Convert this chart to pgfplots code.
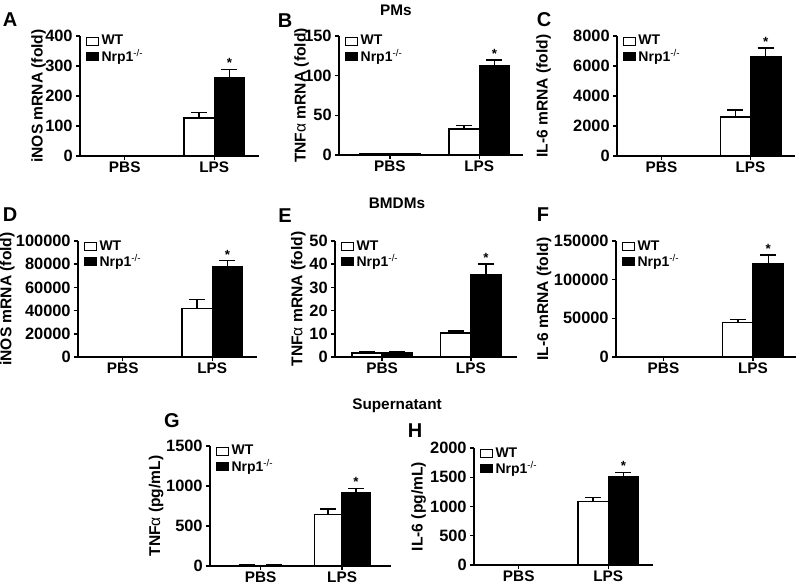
\documentclass[border=0pt]{standalone}
\usepackage{pgfplots}
\pgfplotsset{compat=1.18}
\usepackage{fontspec}
\setmainfont{Liberation Sans}
\newcommand\tickfont{\bfseries\fontsize{12.3}{13}\selectfont}
\newcommand\catfont{\bfseries\fontsize{11.5}{12}\selectfont}
\newcommand\labfont{\bfseries\fontsize{11.7}{12}\selectfont}
\newcommand\legfont{\bfseries\fontsize{10.5}{11}\selectfont}
\newcommand\letfont{\bfseries\fontsize{15}{16}\selectfont}
\newcommand\titfont{\bfseries\fontsize{11.5}{12}\selectfont}
\pgfplotsset{
  panel/.style={
    scale only axis, clip=false,
    axis x line*=bottom, axis y line*=left,
    axis line style={line width=1.1pt, black},
    xmin=-0.5, xmax=1.5, ymin=0,
    xtick={0,1}, xticklabels={PBS,LPS},
    tick align=outside,
    major tick length=3pt,
    every tick/.style={line width=1.1pt, black},
    x tick label style={font=\catfont, yshift=2.5pt},
    y tick label style={font=\tickfont, /pgf/number format/fixed, /pgf/number format/1000 sep={}, xshift=1pt},
    scaled y ticks=false,
    /pgf/number format/assume math mode=true,
    every axis y label/.style={at={(rel axis cs:0,0.5)}, rotate=90, anchor=center, font=\labfont},
    legend style={at={(0.03,1.03)}, anchor=north west, draw=none, fill=none, font=\legfont,
      inner sep=0pt, row sep=-2.5pt, cells={anchor=west}},
    legend image code/.code={\draw[##1, line width=0.9pt] (0pt,-3pt) rectangle (9pt,3pt);},
  },
  wt/.style={ybar, bar width=0.34, bar shift=0, fill=white, draw=black, line width=1.1pt,
    error bars/.cd, y dir=plus, y explicit,
    error bar style={line width=1.1pt, black},
    error mark options={rotate=90, mark size=6pt, line width=1.1pt, black}},
  ko/.style={ybar, bar width=0.34, bar shift=0, fill=black, draw=black, line width=1.1pt,
    error bars/.cd, y dir=plus, y explicit,
    error bar style={line width=1.1pt, black},
    error mark options={rotate=90, mark size=6pt, line width=1.1pt, black}},
}
\newcommand\nrp{Nrp1\textsuperscript{\mdseries -/-}}
\newcommand\alp{{\mdseries α}}
\newcommand\sigstar[1]{\node[font=\bfseries\fontsize{10}{10}\selectfont, anchor=south, inner sep=1pt] at (axis cs:1.17,#1) {*};}
\begin{document}
\begin{tikzpicture}
\useasboundingbox (0,0) rectangle (600pt,-438.75pt);
% ---------- A ----------
\begin{axis}[panel, at={(60pt,-117pt)}, anchor=south west, width=134.25pt, height=90pt,
  ymax=400, ytick={0,100,200,300,400}, ylabel={iNOS mRNA (fold)},
  ylabel style={yshift=31pt}]
\addplot[wt] coordinates {(-0.17,1) +- (0,0.3) (0.83,126) +- (0,19)};
\addplot[ko] coordinates {(0.17,1) +- (0,0.3) (1.17,262) +- (0,27)};
\legend{WT,\nrp}
\sigstar{289}
\end{axis}
% ---------- B ----------
\begin{axis}[panel, at={(254.25pt,-116.25pt)}, anchor=south west, width=138pt, height=89.25pt,
  xmin=-0.57, xmax=1.49,
  ymax=150, ytick={0,50,100,150}, ylabel={TNF\alp{} mRNA (fold)},
  ylabel style={yshift=28pt}]
\addplot[wt] coordinates {(-0.17,1) +- (0,0.2) (0.83,33) +- (0,4)};
\addplot[ko] coordinates {(0.17,1) +- (0,0.2) (1.17,113) +- (0,7)};
\legend{WT,\nrp}
\sigstar{120}
\end{axis}
% ---------- C ----------
\begin{axis}[panel, at={(462.75pt,-117pt)}, anchor=south west, width=133.5pt, height=90pt,
  ymax=8000, ytick={0,2000,4000,6000,8000}, ylabel={IL-6 mRNA (fold)},
  ylabel style={yshift=55pt}]
\addplot[wt] coordinates {(-0.17,1) +- (0,0.3) (0.83,2600) +- (0,470)};
\addplot[ko] coordinates {(0.17,1) +- (0,0.3) (1.17,6600) +- (0,600)};
\legend{WT,\nrp}
\sigstar{7200}
\end{axis}
% ---------- D ----------
\begin{axis}[panel, at={(58.5pt,-267.75pt)}, anchor=south west, width=134.25pt, height=87pt,
  ymax=100000, ytick={0,20000,40000,60000,80000,100000}, ylabel={iNOS mRNA (fold)},
  ylabel style={yshift=53pt}]
\addplot[wt] coordinates {(-0.17,1) +- (0,0.3) (0.83,42000) +- (0,7500)};
\addplot[ko] coordinates {(0.17,1) +- (0,0.3) (1.17,77500) +- (0,5500)};
\legend{WT,\nrp}
\sigstar{83000}
\end{axis}
% ---------- E ----------
\begin{axis}[panel, at={(251.25pt,-267.75pt)}, anchor=south west, width=136.5pt, height=87pt,
  xmin=-0.53, xmax=1.52,
  ymax=50, ytick={0,10,20,30,40,50}, ylabel={TNF\alp{} mRNA (fold)},
  ylabel style={yshift=27.5pt}]
\addplot[wt] coordinates {(-0.17,1.7) +- (0,0.5) (0.83,10.4) +- (0,0.8)};
\addplot[ko] coordinates {(0.17,1.8) +- (0,0.4) (1.17,35.4) +- (0,4.6)};
\legend{WT,\nrp}
\sigstar{40}
\end{axis}
% ---------- F ----------
\begin{axis}[panel, at={(462pt,-267.75pt)}, anchor=south west, width=135pt, height=87pt,
  xmin=-0.53, xmax=1.48,
  ymax=150000, ytick={0,50000,100000,150000}, ylabel={IL-6 mRNA (fold)},
  ylabel style={yshift=54pt}]
\addplot[wt] coordinates {(-0.17,1) +- (0,0.3) (0.83,44500) +- (0,3900)};
\addplot[ko] coordinates {(0.17,1) +- (0,0.3) (1.17,120000) +- (0,12000)};
\legend{WT,\nrp}
\sigstar{132000}
\end{axis}
% ---------- G ----------
\begin{axis}[panel, at={(157.5pt,-424.5pt)}, anchor=south west, width=135.75pt, height=90pt,
  xmin=-0.62, xmax=1.6,
  ymax=1500, ytick={0,500,1000,1500}, ylabel={TNF\alp{} (pg/mL)},
  ylabel style={yshift=40.5pt}]
\addplot[wt] coordinates {(-0.17,8) +- (0,2) (0.83,643) +- (0,72)};
\addplot[ko] coordinates {(0.17,8) +- (0,2) (1.17,919) +- (0,51)};
\legend{WT,\nrp}
\sigstar{970}
\end{axis}
% ---------- H ----------
\begin{axis}[panel, at={(355.5pt,-423.75pt)}, anchor=south west, width=134.25pt, height=87.75pt,
  ymax=2000, ytick={0,500,1000,1500,2000}, ylabel={IL-6 (pg/mL)},
  ylabel style={yshift=41.5pt}]
\addplot[wt] coordinates {(-0.17,10) +- (0,2) (0.83,1086) +- (0,68)};
\addplot[ko] coordinates {(0.17,10) +- (0,2) (1.17,1514) +- (0,69)};
\legend{WT,\nrp}
\sigstar{1583}
\end{axis}
% ---------- letters and titles ----------
\node[font=\letfont] at (7.5pt,-15pt) {A};
\node[font=\letfont] at (213.75pt,-15.75pt) {B};
\node[font=\letfont] at (408pt,-15pt) {C};
\node[font=\letfont] at (7.5pt,-161.25pt) {D};
\node[font=\letfont] at (213.75pt,-162pt) {E};
\node[font=\letfont] at (407.25pt,-161.25pt) {F};
\node[font=\letfont] at (129pt,-315.75pt) {G};
\node[font=\letfont] at (311.25pt,-323.25pt) {H};
\node[font=\titfont] at (297pt,-7.5pt) {PMs};
\node[font=\titfont] at (297.75pt,-152.25pt) {BMDMs};
\node[font=\titfont] at (297.75pt,-304.5pt) {Supernatant};
\end{tikzpicture}
\end{document}
